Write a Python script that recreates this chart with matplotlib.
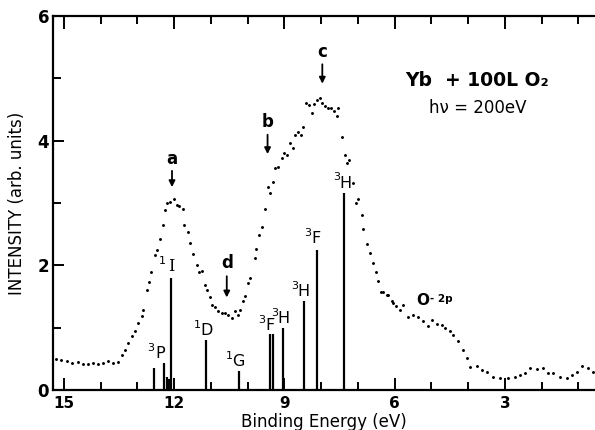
import matplotlib.pyplot as plt
from matplotlib.ticker import MultipleLocator

# Spectre de photoémission
energy = [15.22, 15.08, 14.93, 14.78, 14.63, 14.48, 14.35, 14.21, 14.08, 13.94,
          13.80, 13.67, 13.53, 13.43, 13.34, 13.25, 13.16, 13.07, 12.98, 12.89,
          12.84, 12.75, 12.68, 12.64, 12.52, 12.48, 12.39, 12.31, 12.25, 12.19,
          12.12, 12.01, 11.93, 11.86, 11.77, 11.73, 11.63, 11.57, 11.48, 11.39,
          11.32, 11.25, 11.16, 11.10, 11.03, 10.98, 10.89, 10.80, 10.71, 10.62,
          10.53, 10.44, 10.35, 10.26, 10.21, 10.14, 10.07, 9.98, 9.94, 9.80,
          9.78, 9.69, 9.62, 9.53, 9.44, 9.38, 9.32, 9.26, 9.17, 9.08,
          9.01, 8.94, 8.85, 8.78, 8.71, 8.62, 8.56, 8.49, 8.41, 8.32,
          8.26, 8.20, 8.12, 8.03, 7.99, 7.90, 7.81, 7.73, 7.65, 7.58,
          7.54, 7.44, 7.35, 7.31, 7.24, 7.13, 7.05, 6.99, 6.90, 6.86,
          6.76, 6.67, 6.60, 6.51, 6.46, 6.36, 6.31, 6.22, 6.17, 6.08,
          6.04, 5.97, 5.86, 5.77, 5.63, 5.49, 5.36, 5.22, 5.09, 4.99,
          4.86, 4.72, 4.63, 4.50, 4.41, 4.27, 4.13, 4.03, 3.95, 3.77,
          3.63, 3.50, 3.32, 3.14, 2.91, 2.73, 2.59, 2.46, 2.32, 2.14,
          1.96, 1.82, 1.69, 1.50, 1.32, 1.18, 1.05, 0.91, 0.73, 0.60]
intensity = [0.50, 0.48, 0.47, 0.44, 0.45, 0.42, 0.41, 0.44, 0.42, 0.43,
             0.46, 0.44, 0.45, 0.56, 0.64, 0.75, 0.86, 0.95, 1.07, 1.18,
             1.28, 1.60, 1.74, 1.90, 2.17, 2.25, 2.43, 2.65, 2.89, 3.00,
             3.02, 3.07, 2.97, 2.95, 2.90, 2.65, 2.54, 2.36, 2.18, 2.00,
             1.90, 1.91, 1.68, 1.60, 1.50, 1.36, 1.33, 1.26, 1.23, 1.24,
             1.20, 1.15, 1.26, 1.20, 1.29, 1.42, 1.51, 1.71, 1.79, 2.11,
             2.26, 2.49, 2.61, 2.91, 3.25, 3.16, 3.34, 3.56, 3.57, 3.72,
             3.80, 3.77, 3.96, 3.88, 4.09, 4.14, 4.09, 4.22, 4.61, 4.57,
             4.44, 4.59, 4.65, 4.68, 4.61, 4.56, 4.52, 4.52, 4.47, 4.40,
             4.52, 4.06, 3.77, 3.64, 3.69, 3.32, 3.00, 3.06, 2.81, 2.58,
             2.35, 2.19, 2.03, 1.90, 1.75, 1.58, 1.58, 1.52, 1.52, 1.42,
             1.39, 1.34, 1.28, 1.36, 1.17, 1.20, 1.17, 1.11, 1.02, 1.12,
             1.06, 1.04, 0.99, 0.95, 0.88, 0.78, 0.64, 0.51, 0.37, 0.39,
             0.32, 0.29, 0.21, 0.19, 0.19, 0.21, 0.24, 0.27, 0.35, 0.33,
             0.35, 0.27, 0.27, 0.21, 0.19, 0.24, 0.29, 0.39, 0.36, 0.29]

# Multiplets calculés (barres)
stick_energy = [12.54, 12.28, 12.20, 12.15, 12.08, 11.14, 10.23, 9.39, 9.30, 9.05, 8.47, 8.12, 7.37]
stick_height = [0.35, 0.43, 0.21, 0.17, 1.79, 0.81, 0.30, 0.90, 0.90, 1.00, 1.42, 2.25, 3.16]

# Étiquettes des multiplets : (multiplicité, lettre, énergie, intensité)
term_labels = [('3', 'P', 12.39, 0.59), ('1', 'I', 12.08, 1.98), ('1', 'D', 11.12, 0.96),
               ('1', 'G', 10.26, 0.45), ('3', 'F', 9.39, 1.04), ('3', 'H', 9.03, 1.15),
               ('3', 'H', 8.49, 1.58), ('3', 'F', 8.14, 2.43), ('3', 'H', 7.35, 3.32)]

# Flèches des structures a, b, c, d : (lettre, énergie, texte, début, fin)
peak_marks = [('a', 12.06, 3.70, 3.56, 3.21), ('b', 9.46, 4.30, 4.14, 3.74),
              ('c', 7.97, 5.43, 5.27, 4.87), ('d', 10.57, 2.03, 1.87, 1.44)]

x_ticks = [15, 12, 9, 6, 3]
y_ticks = [0, 2, 4, 6]

fig = plt.figure(figsize=(5.95, 4.3), dpi=100)
ax = fig.add_axes([53.3 / 595, 1 - 390 / 430, 1 - 53.3 / 595, (390 - 16) / 430])

ax.plot(energy, intensity, linestyle='none', marker='o', markersize=1.1, color='k')
ax.vlines(stick_energy, 0, stick_height, color='k', lw=1.6)

for sup, letter, e, i in term_labels:
    fam = 'DejaVu Serif' if letter == 'I' else 'DejaVu Sans'
    ax.text(e, i, letter, ha='center', va='center', fontsize=11.5, family=fam)
    ax.annotate(sup, xy=(e, i), xytext=(-3.8, 4), textcoords='offset points',
                ha='right', va='center', fontsize=8)

for letter, e, t, y0, y1 in peak_marks:
    ax.text(e, t, letter, ha='center', va='center', fontsize=12, fontweight='bold')
    ax.annotate('', xy=(e, y1), xytext=(e, y0),
                arrowprops=dict(arrowstyle='-|>', color='k', lw=1.3, mutation_scale=9))

ax.text(3.75, 4.97, 'Yb  + 100L O₂', ha='center', va='center', fontsize=13.5, fontweight='bold')
ax.text(3.73, 4.52, 'hν = 200eV', ha='center', va='center', fontsize=12)
ax.text(5.23, 1.44, 'O', ha='center', va='center', fontsize=11, fontweight='bold')
ax.text(5.05, 1.46, '- 2p', ha='left', va='center', fontsize=7.5, fontweight='bold')

ax.set_xlim(15.29, 0.55)
ax.set_ylim(0, 6)
ax.set_xticks(x_ticks)
ax.set_xticklabels([str(v) for v in x_ticks], fontsize=11, fontweight='bold')
ax.set_yticks(y_ticks)
ax.set_yticklabels([str(v) for v in y_ticks], fontsize=12, fontweight='bold')
ax.xaxis.set_minor_locator(MultipleLocator(1))
ax.yaxis.set_minor_locator(MultipleLocator(1))
ax.tick_params(axis='x', which='both', direction='in', top=True, width=1.4, pad=4)
ax.tick_params(axis='x', which='major', length=9)
ax.tick_params(axis='x', which='minor', length=5.5)
ax.tick_params(axis='y', which='both', direction='in', width=1.4, pad=3)
ax.tick_params(axis='y', which='major', length=8)
ax.tick_params(axis='y', which='minor', length=6)
ax.spines['right'].set_visible(False)
for s in ['left', 'bottom', 'top']:
    ax.spines[s].set_linewidth(1.6)

ax.set_xlabel('Binding Energy (eV)', fontsize=12, labelpad=2)
ax.set_ylabel('INTENSITY (arb. units)', fontsize=12, labelpad=8)

plt.savefig('out.png', dpi=100)
